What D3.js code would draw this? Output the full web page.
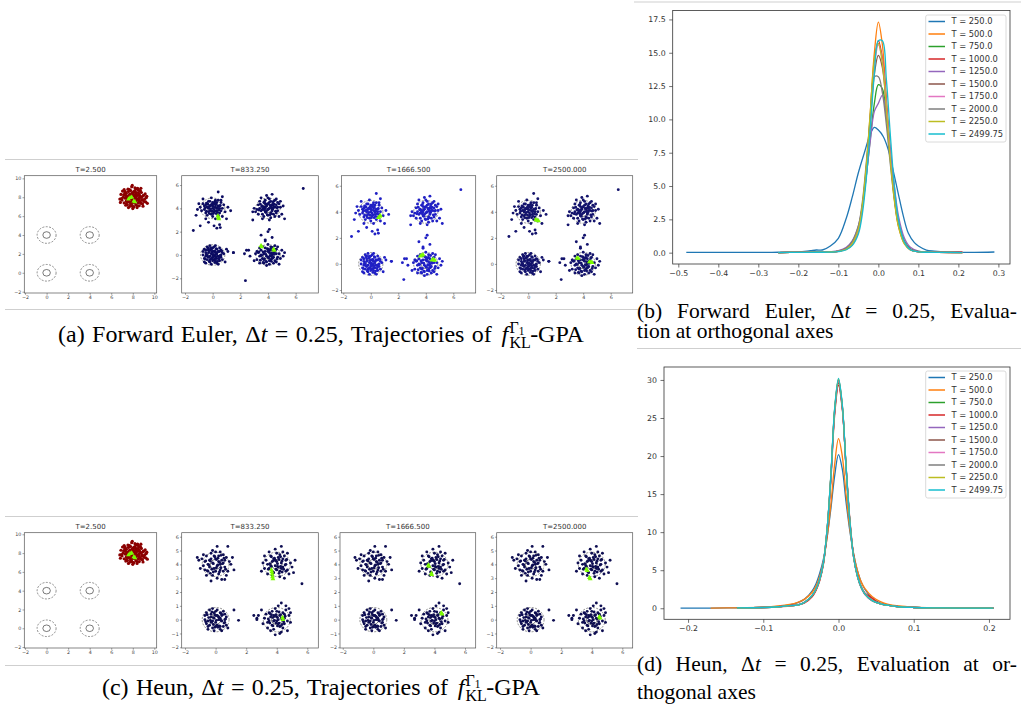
<!DOCTYPE html>
<html>
<head>
<meta charset="utf-8">
<title>GPA trajectories and orthogonal-axis evaluation</title>
<script src="https://cdnjs.cloudflare.com/ajax/libs/d3/7.8.5/d3.min.js"></script>
<style>
  body { margin: 0; background: #fff; }
  svg { display: block; }
</style>
</head>
<body>
<script>
// ---------- data ----------
// cluster centres of the target mixture
var centers = [[0, 4], [4, 4], [0, 0], [4, 0]];

// particle offsets from each centre, in tenths (dx, dy, dx, dy ...)
var eulerTL = [-5,3, -2,6, 1,4, 4,2, -6,-1, 0,0, 3,-2, -3,-3, 6,5, -1,-5, 2,7, -7,4, 5,-4, -4,1, 1,-1, 7,0, -2,2, 3,5, -5,-4, 0,-7, 4,-6, -8,-2, 2,1, -1,3, 6,-2, -3,6, 8,3, -6,2, 1,-3, 5,2, -4,-6, 0,5, 3,0, -2,-2, 9,-3, -9,1, 4,7, -1,9, 2,-9, 11,1, -11,-1, 7,-7, 4,14, 7,10, 1,-15, 5,-14, -3,-12, 10,-9, -12,-6, -5,-9, 3,-17, 13,-2, -10,4, -7,8, 2,3, -3,0, 5,0, 0,2, -4,4, 6,7];
var eulerTR = [-4,2, 1,5, 3,-1, -2,-3, 6,3, 0,-1, -6,0, 4,6, -1,2, 2,-4, 7,-2, -3,5, 5,1, -5,-2, 1,0, -2,7, 8,4, 3,3, -7,3, 0,-6, 4,-5, -4,-5, 2,2, -1,-2, 6,-4, 9,1, -8,-1, -3,1, 1,8, 5,7, -6,6, 2,-8, -1,11, 3,12, -9,-3, 10,-5, 8,-7, -4,-9, 0,4, 4,1, -2,0, 3,-2, 6,8, -5,9, 12,-9, 9,6, -11,-3, -10,0, 1,-10, -3,-7, 7,5, 5,-7, 0,9, 2,6, -7,-5, 11,2, -2,4, 4,3, 7,1, -4,-1];
var eulerBL = [-3,2, 1,-4, 4,3, -5,-1, 0,6, 2,0, -2,-6, 6,-2, -6,5, 3,-7, -1,1, 5,6, -4,-4, 1,3, -7,0, 7,2, 0,-2, -2,8, 3,5, -5,-7, 2,-5, -3,4, 4,-1, -1,-8, 6,4, -6,-3, 1,7, 5,-5, -4,7, 0,-5, 2,2, -2,-1, 7,-4, -7,3, 3,1, -1,5, 4,-8, -3,-2, 0,3, 6,0, -5,2, 2,8, -2,-4, 8,1, 1,-1, -4,0, 5,3, -6,-6, 3,-3, -1,-3, 11,3, 15,2, 9,-6, 10,5, -1,6, 2,-3, -3,6, 5,-2, -5,4, 0,0];
var eulerBR = [-3,1, 2,-4, 5,3, -6,-1, 0,5, 3,0, -1,-6, 7,-2, -5,4, 4,-7, 1,2, -4,-3, 6,5, -2,6, 8,1, 0,-2, -7,2, 3,4, -3,-7, 5,-5, 2,7, -1,-1, 9,-3, -8,-4, 1,-8, 4,2, -4,7, 6,-6, -2,3, 10,4, -6,6, 3,-3, 11,-1, -9,1, 0,9, -2,13, 0,20, 1,22, -5,17, -2,12, 3,15, -14,4, -17,1, -13,-1, 7,7, 8,-8, -1,-9, 12,2, -10,-5, 2,-1, -5,0, 4,-2, 6,1, -3,-4, 0,3, 5,8, -8,3, 2,5, 1,-5, -6,-7];
var eulerExtras = [[6.55, 5.7], [-1.4, 2.1], [-0.9, 2.5], [0.55, 2.35], [2.9, 3.0], [2.45, 0.4], [1.5, 0.2]];

var heunTL = [-4,3, 2,6, 5,1, -1,-3, -7,2, 3,-4, 0,4, -5,-5, 7,5, 1,-1, -3,8, 6,-2, -8,-1, 4,3, -2,1, 9,2, -6,6, 2,-7, -4,-2, 8,-5, 0,9, 5,7, -9,4, 3,0, -1,6, 1,-10, -6,-8, 10,0, -11,3, 7,-8, 4,-11, -3,-12, 8,13, -2,10, -12,5, 12,-4, -10,-3, 6,3, -5,0, 0,-5, 2,2, -3,4, 5,-5, -7,-4, 11,5, -2,-8, 3,9, -8,7, 1,13, 6,-11];
var heunTR = [-3,2, 1,5, 4,-2, -6,0, 2,-5, -1,-1, 6,3, -4,6, 3,1, -8,-3, 7,-4, 0,8, -2,-6, 5,6, -7,3, 1,-2, 9,1, -3,-8, 4,4, -5,-3, 10,-2, 0,2, 2,-9, -9,1, 7,8, -1,11, 3,13, -5,9, 12,3, 8,-7, -6,-7, 5,-10, -10,-5, 11,-6, 6,0, -2,4, 3,-3, -4,-1, 0,-4, 2,7, -8,6, 4,9, -1,3, 6,-5];
var heunBL = [-3,2, 1,-4, 4,3, -5,-1, 0,6, 2,0, -2,-6, 6,-2, -6,5, 3,-7, -1,1, 5,6, -4,-4, 1,3, -7,0, 7,2, 0,-2, -2,8, 3,5, -5,-7, 2,-5, -3,4, 4,-1, -1,-8, 6,4, -6,-3, 1,7, 5,-5, -4,7, 0,-5, 2,2, -2,-1, 7,-4, -7,3, 3,1, -1,5, 4,-8, -3,-2, 0,3, 6,0, 8,-6, -5,-5, 3,-5];
var heunBR = [-4,2, 1,-3, 5,4, -6,-2, 0,6, 3,1, -2,-7, 7,-1, -5,5, 4,-6, 2,3, -3,-4, 6,7, -1,8, 8,3, 0,-1, -8,1, 3,-9, -4,-8, 5,-3, 1,10, -2,-1, 9,-2, -7,4, 2,-10, 4,5, -10,7, -12,3, -13,0, 7,-8, -1,-11, 6,10, 3,12, -3,6, 9,5, 0,2, -5,-1, 2,-5, -2,3, 5,1, -6,-6, 1,0, -9,-3, 8,8];
var heunExtras = [[5.65, 2.6], [1.2, 0.7], [1.5, -0.05], [2.5, 0.3], [2.7, 0.1]];

// extra particles in the dense cores (same tenths convention)
var coreA = [-2.5,1.5, 1.5,-2.5, -0.5,3.5, 3.5,0.5, -4.5,-2.5, 2.5,3.5, -1.5,-0.5, 0.5,1.5, 4.5,-1.5, -3.5,3.5, 1.5,5.5, -5.5,0.5, 2.5,-4.5, -2.5,-4.5, 5.5,2.5, -0.5,-2.5, 0.5,-4.5, -4.5,4.5, 3.5,-3.5, -1.5,2.5];
var coreB = [1.5,2.5, -2.5,-1.5, 3.5,-0.5, -0.5,3.5, 2.5,-4.5, -4.5,1.5, 0.5,-0.5, -1.5,-3.5, 4.5,3.5, -3.5,-0.5, 5.5,-2.5, -5.5,3.5, 1.5,-5.5, -2.5,5.5, 3.5,4.5, -0.5,-5.5, 6.5,0.5, -6.5,-1.5, 2.5,0.5, -1.5,1.5];
var coreC = [0.5,0.5, -2.5,2.5, 2.5,-1.5, -3.5,-1.5, 1.5,3.5, -0.5,-3.5, 3.5,2.5, -4.5,0.5, 4.5,-3.5, 0.5,-1.5, -1.5,4.5, 2.5,5.5, -5.5,-3.5, 5.5,-0.5, -2.5,-5.5, 1.5,-6.5, -3.5,5.5, 6.5,3.5, -0.5,2.5, 3.5,-5.5];
var coreD = [-1.5,0.5, 2.5,1.5, -3.5,2.5, 0.5,-2.5, 3.5,-2.5, -2.5,-3.5, 1.5,4.5, -4.5,-0.5, 4.5,0.5, -0.5,5.5, 5.5,4.5, -5.5,-4.5, 2.5,-5.5, -1.5,-5.5, 6.5,-3.5, -6.5,2.5, 0.5,3.5, 3.5,6.5, -3.5,-6.5, 1.5,-0.5];

// initial particles (T=2.5)
var redCenter = [8, 7.9];
var redOffsets = [-3,2, 1,-4, 4,3, -5,-1, 0,6, 2,0, -2,-6, 6,-2, -6,5, 3,-7, -1,1, 5,6, -4,-4, 1,3, -7,0, 7,2, 0,-2, -2,8, 3,5, -5,-7, 2,-5, -3,4, 4,-1, -1,-8, 6,4, -6,-3, 1,7, 5,-5, -4,7, 0,-5, 2,2, -2,-1, 7,-4, -7,3, 3,1, -1,5, 4,-8, -3,-2, 0,3, 6,0, -5,2, 2,8, -2,-4, 8,1, 1,-1, -4,0, 5,3, -6,-6, 3,-3, -1,-3, 9,-2, -9,1, 10,3, -8,-5, 11,-1, -10,-2, 8,6, -7,7, 2,11, -1,12, 9,-6, -4,-10, 0,-11, 5,9, 13,2, -11,4, 1,-9, 6,-8, -8,9, 3,10, 12,-4, -12,-1, 7,8, 4,-10, -3,9];
var redExtra = [-8.5,3.5, 9.5,2.5, -6.5,-7.5, 7.5,-5.5, 10.5,-3.5, -10.5,-0.5, 4.5,10.5, -4.5,9.5, 0.5,-9.5, 12.5,0.5, -2.5,-8.5, 6.5,7.5, -7.5,5.5, 8.5,-1.5, -5.5,-3.5, 2.5,6.5, -1.5,-6.5, 5.5,-2.5, -3.5,1.5, 1.5,-3.5, 3.5,3.5, -6.5,0.5, 0.5,4.5, 11.5,4.5, -11.5,-4.5, 7.5,10.5, -9.5,7.5, 13.5,-5.5, -0.5,13.5, 9.5,-8.5];

// green markers (tracked particles) per panel
var greenStart = [[7.6, 7.8], [7.75, 7.95], [7.9, 8.0], [8.1, 7.6], [8.2, 7.5]];
var greenEuler = [
  [[0.38, 3.35], [0.42, 3.2], [0.45, 3.1], [3.5, 0.8], [3.55, 0.7], [4.4, 0.5], [4.45, 0.4]],
  [[0.55, 3.55], [0.65, 3.65], [0.7, 3.7], [3.6, 0.6], [3.7, 0.65], [3.8, 0.7], [4.45, 0.3], [4.55, 0.35], [4.65, 0.28]],
  [[0.55, 3.4], [0.65, 3.35], [0.75, 3.3], [3.55, 0.45], [3.65, 0.42], [4.45, 0.15], [4.55, 0.15], [4.65, 0.1]]
];
var greenHeun = [
  [[3.65, 3.6], [3.68, 3.45], [3.7, 3.3], [3.72, 3.1], [3.75, 2.95], [4.38, 0.15], [4.4, 0.0]],
  [[3.6, 3.95], [3.65, 3.85], [3.8, 3.35], [3.82, 3.25], [4.45, 0.5], [4.5, 0.4]],
  [[3.65, 3.65], [3.7, 3.55], [3.85, 3.05], [3.9, 2.95], [4.5, 0.2], [4.55, 0.12]]
];
var panelTitles = ["T=2.500", "T=833.250", "T=1666.500", "T=2500.000"];

// density curves, evaluation at orthogonal axes
var legendLabels = ["T = 250.0", "T = 500.0", "T = 750.0", "T = 1000.0", "T = 1250.0",
                    "T = 1500.0", "T = 1750.0", "T = 2000.0", "T = 2250.0", "T = 2499.75"];
var colors = ["#1f77b4", "#ff7f0e", "#2ca02c", "#d62728", "#9467bd",
              "#8c564b", "#e377c2", "#7f7f7f", "#bcbd22", "#17becf"];

var eulerBlueX = [-0.48,-0.4,-0.3,-0.25,-0.2,-0.17,-0.155,-0.14,-0.12,-0.1,-0.08,-0.065,-0.05,-0.035,-0.02,-0.01,0,0.0125,0.025,0.0375,0.05,0.062,0.075,0.09,0.1,0.12,0.14,0.17,0.2,0.24,0.29];
var eulerBlueY = [0.02,0.02,0.02,0.03,0.05,0.15,0.2,0.2,0.5,1.08,2.6,4.2,6.0,7.5,8.9,9.4,9.2,8.7,7.7,6.1,4.4,2.8,1.45,0.75,0.5,0.2,0.12,0.05,0.03,0.02,0.05];
var eulerX = [-0.25,-0.2,-0.15,-0.12,-0.1,-0.08,-0.065,-0.05,-0.04,-0.03,-0.02,-0.01,0,0.01,0.02,0.03,0.04,0.05,0.065,0.08,0.1,0.12,0.15,0.21];
var euler500  = [0.01,0.02,0.03,0.05,0.1,0.25,0.6,1.6,3.3,6.4,10.6,15.0,17.3,15.6,11.6,7.4,4.1,2.0,0.7,0.25,0.08,0.04,0.02,0.01];
var euler750  = [0.01,0.02,0.04,0.06,0.12,0.35,0.8,1.9,3.4,5.8,8.6,11.2,12.6,12.3,10.2,7.2,4.4,2.4,0.9,0.3,0.1,0.05,0.03,0.02];
var euler1000 = [0.01,0.02,0.03,0.05,0.1,0.3,0.7,1.7,3.4,6.3,10.2,14.2,15.9,14.6,11.2,7.3,4.2,2.2,0.75,0.2,0.06,0.03,0.02,0.05];
var euler1250 = [0.01,0.02,0.04,0.07,0.15,0.4,0.9,2.0,3.5,5.8,8.4,10.6,11.2,11.8,10.4,7.8,5.0,2.8,1.1,0.4,0.12,0.05,0.03,0.02];
var euler1500 = [0.01,0.02,0.03,0.05,0.1,0.3,0.75,1.8,3.5,6.3,9.9,13.4,14.8,13.9,10.9,7.2,4.2,2.2,0.8,0.25,0.08,0.04,0.02,0.01];
var euler1750 = [0.01,0.02,0.03,0.05,0.1,0.28,0.7,1.7,3.4,6.2,10.0,14.0,15.6,14.4,11.1,7.2,4.2,2.2,0.75,0.22,0.07,0.03,0.02,0.01];
var euler2000 = [0.01,0.02,0.03,0.06,0.12,0.33,0.85,2.0,3.8,6.8,10.2,13.2,13.2,12.0,9.6,6.6,4.0,2.1,0.8,0.25,0.08,0.04,0.02,0.01];
var euler2250 = [0.01,0.02,0.03,0.05,0.1,0.28,0.7,1.8,3.6,6.6,10.6,14.5,15.7,14.2,10.8,6.9,3.9,2.0,0.65,0.2,0.06,0.03,0.02,0.01];
var euler2500 = [0.01,0.02,0.03,0.04,0.08,0.22,0.55,1.4,2.9,5.6,9.4,13.4,15.9,15.9,13.0,8.8,5.0,2.5,0.8,0.22,0.06,0.03,0.02,0.01];

var heunWideX = [-0.21,-0.17,-0.135,-0.1,-0.08,-0.065,-0.055,-0.045,-0.035,-0.03,-0.025,-0.02,-0.015,-0.01,-0.005,0,0.005,0.01,0.015,0.02,0.025,0.03,0.035,0.045,0.055,0.065,0.08,0.1,0.13,0.16,0.206];
var heun250 = [0.03,0.03,0.05,0.12,0.25,0.45,0.7,1.2,2.3,3.2,4.6,6.5,9.4,13.2,17.5,20.2,18.3,14.0,10.2,7.2,5.0,3.5,2.5,1.3,0.7,0.45,0.25,0.12,0.06,0.04,0.03];
var heun500 = [null,0.03,0.06,0.15,0.3,0.5,0.75,1.2,2.1,2.9,4.2,6.2,9.4,13.8,19.0,22.3,20.0,15.0,10.5,7.2,5.0,3.5,2.6,1.5,0.9,0.55,0.3,0.15,0.07,0.04,0.03];
var heunX = [-0.135,-0.1,-0.08,-0.065,-0.055,-0.045,-0.035,-0.03,-0.025,-0.02,-0.015,-0.01,-0.005,0,0.005,0.01,0.015,0.02,0.025,0.03,0.035,0.045,0.055,0.065,0.08,0.1,0.13,0.16,0.206];
var heun750  = [0.05,0.1,0.2,0.35,0.4,0.8,1.7,2.5,3.8,6.0,10.5,17.5,26.0,29.8,26.5,18.5,11.5,6.8,4.3,2.8,1.9,1.0,0.6,0.4,0.2,0.1,0.05,0.03,0.02];
var heun1000 = [0.05,0.1,0.2,0.3,0.4,0.7,1.5,2.3,3.6,5.8,10.2,17.0,25.5,29.3,26.2,18.8,11.8,7.0,4.4,2.9,2.0,1.3,0.6,0.4,0.2,0.1,0.05,0.03,0.02];
var heun1250 = [0.05,0.1,0.2,0.35,0.45,0.8,1.7,2.5,3.9,6.1,10.6,17.6,26.2,30.0,26.6,18.6,11.4,6.7,4.2,2.7,1.8,0.95,0.6,0.4,0.2,0.1,0.05,0.03,0.02];
var heun1500 = [0.05,0.1,0.2,0.35,0.4,0.75,1.6,2.4,3.7,5.9,10.4,17.4,25.9,29.6,26.4,18.6,11.6,6.9,4.3,2.8,1.9,1.0,0.6,0.4,0.2,0.1,0.05,0.03,0.02];
var heun1750 = [0.05,0.1,0.2,0.35,0.4,0.8,1.7,2.5,3.8,6.0,10.5,17.5,26.0,29.9,26.5,18.5,11.5,6.8,4.3,2.8,1.9,1.0,0.6,0.4,0.2,0.1,0.05,0.03,0.02];
var heun2000 = [0.05,0.1,0.2,0.35,0.4,0.8,1.7,2.5,3.8,6.0,10.5,17.6,26.1,30.0,26.6,18.6,11.5,6.8,4.3,2.8,1.9,1.0,0.6,0.4,0.2,0.1,0.05,0.03,0.02];
var heun2250 = [0.05,0.1,0.2,0.35,0.4,0.8,1.7,2.5,3.8,6.0,10.6,17.7,26.3,30.1,26.7,18.7,11.5,6.8,4.3,2.8,1.9,1.0,0.6,0.4,0.2,0.1,0.05,0.03,0.02];
var heun2500 = [0.05,0.1,0.2,0.35,0.4,0.8,1.7,2.5,3.8,6.0,10.6,17.8,26.4,30.2,26.8,18.8,11.6,6.8,4.3,2.8,1.9,1.0,0.6,0.4,0.2,0.1,0.05,0.03,0.02];

// ---------- drawing ----------
var svg = d3.select("body").append("svg").attr("width", 1021).attr("height", 715);
var tickFont = "DejaVu Sans, sans-serif";
var clipCount = 0;

function toPoints(c, offs) {
  var p = [];
  for (var i = 0; i < offs.length; i += 2) p.push([c[0] + offs[i] / 10, c[1] + offs[i + 1] / 10]);
  return p;
}

function rule(x1, x2, y) {
  svg.append("line").attr("x1", x1).attr("x2", x2).attr("y1", y).attr("y2", y)
    .attr("stroke", "#cfcfcf").attr("stroke-width", 1);
}

function scatterPanel(box, xd, yd, xt, yt, title, pts, col, greens, rad) {
  var x = d3.scaleLinear().domain(xd).range([box[0], box[2]]);
  var y = d3.scaleLinear().domain(yd).range([box[3], box[1]]);
  var g = svg.append("g");
  var id = "clip" + (clipCount++);
  g.append("clipPath").attr("id", id).append("rect")
    .attr("x", box[0]).attr("y", box[1]).attr("width", box[2] - box[0]).attr("height", box[3] - box[1]);
  var inner = g.append("g").attr("clip-path", "url(#" + id + ")");

  centers.forEach(function(c) {
    [[0.35, null, "#222"], [0.88, "2,1.4", "#444"]].forEach(function(r) {
      inner.append("ellipse")
        .attr("cx", x(c[0])).attr("cy", y(c[1]))
        .attr("rx", x(c[0] + r[0]) - x(c[0])).attr("ry", y(c[1]) - y(c[1] + r[0]))
        .attr("fill", "none").attr("stroke", r[2]).attr("stroke-width", 0.6)
        .attr("stroke-dasharray", r[1]);
    });
  });

  inner.selectAll(null).data(pts).enter().append("circle")
    .attr("cx", function(d) { return x(d[0]); })
    .attr("cy", function(d) { return y(d[1]); })
    .attr("r", rad)
    .attr("fill", col);

  inner.selectAll(null).data(greens).enter().append("path")
    .attr("d", d3.symbol(d3.symbolTriangle, 10))
    .attr("transform", function(d) { return "translate(" + x(d[0]) + "," + y(d[1]) + ")"; })
    .attr("fill", "#7cfc00");

  g.append("rect").attr("x", box[0]).attr("y", box[1])
    .attr("width", box[2] - box[0]).attr("height", box[3] - box[1])
    .attr("fill", "none").attr("stroke", "#555").attr("stroke-width", 0.7);

  var ax = g.append("g").attr("transform", "translate(0," + box[3] + ")")
    .call(d3.axisBottom(x).tickValues(xt).tickSize(1.8).tickPadding(1.2).tickFormat(d3.format("d")));
  var ay = g.append("g").attr("transform", "translate(" + box[0] + ",0)")
    .call(d3.axisLeft(y).tickValues(yt).tickSize(1.8).tickPadding(1.2).tickFormat(d3.format("d")));
  [ax, ay].forEach(function(a) {
    a.select(".domain").remove();
    a.attr("font-size", 4.8).attr("font-family", tickFont).attr("color", "#444");
    a.selectAll("line").attr("stroke-width", 0.5);
  });

  g.append("text").attr("x", (box[0] + box[2]) / 2).attr("y", box[1] - 4)
    .attr("text-anchor", "middle").attr("font-family", tickFont)
    .attr("font-size", 7).attr("fill", "#333").text(title);
}

function lineChart(box, xd, yd, xt, yt, fx, fy, series, legendTop) {
  var x = d3.scaleLinear().domain(xd).range([box[0], box[2]]);
  var y = d3.scaleLinear().domain(yd).range([box[3], box[1]]);
  var g = svg.append("g");
  var line = d3.line()
    .defined(function(d) { return d[1] != null; })
    .x(function(d) { return x(d[0]); })
    .y(function(d) { return y(d[1]); })
    .curve(d3.curveCatmullRom.alpha(0.5));

  series.forEach(function(s, i) {
    var pts = s[0].map(function(v, k) { return [v, s[1][k]]; });
    g.append("path").datum(pts).attr("d", line)
      .attr("fill", "none").attr("stroke", colors[i]).attr("stroke-width", 1.3);
  });

  g.append("rect").attr("x", box[0]).attr("y", box[1])
    .attr("width", box[2] - box[0]).attr("height", box[3] - box[1])
    .attr("fill", "none").attr("stroke", "#333").attr("stroke-width", 0.8);

  var ax = g.append("g").attr("transform", "translate(0," + box[3] + ")")
    .call(d3.axisBottom(x).tickValues(xt).tickSize(3.5).tickPadding(3).tickFormat(fx));
  var ay = g.append("g").attr("transform", "translate(" + box[0] + ",0)")
    .call(d3.axisLeft(y).tickValues(yt).tickSize(3.5).tickPadding(3.5).tickFormat(fy));
  [ax, ay].forEach(function(a) {
    a.select(".domain").remove();
    a.attr("font-size", 7.8).attr("font-family", tickFont).attr("color", "#333");
    a.selectAll("line").attr("stroke-width", 0.7);
  });

  // legend
  var lg = g.append("g");
  lg.append("rect").attr("x", 925.7).attr("y", legendTop).attr("width", 80.3).attr("height", 127)
    .attr("rx", 2).attr("fill", "#fff").attr("fill-opacity", 0.85)
    .attr("stroke", "#d0d0d0").attr("stroke-width", 0.8);
  legendLabels.forEach(function(lab, i) {
    var yy = legendTop + 6.5 + i * 12.5;
    lg.append("line").attr("x1", 928.5).attr("x2", 945).attr("y1", yy).attr("y2", yy)
      .attr("stroke", colors[i]).attr("stroke-width", 1.5);
    lg.append("text").attr("x", 951.5).attr("y", yy).attr("dy", "0.35em")
      .attr("font-family", tickFont).attr("font-size", 8.3).attr("fill", "#333").text(lab);
  });
}

// separator rules of the figure
rule(5, 638, 159.5); rule(5, 638, 309.5);
rule(5, 638, 516.5); rule(5, 638, 665.5);
rule(634, 1021, 2); rule(637, 1021, 348.5);

var eulerPts = toPoints(centers[0], eulerTL.concat(coreA)).concat(
  toPoints(centers[1], eulerTR.concat(coreB)),
  toPoints(centers[2], eulerBL.concat(coreC)),
  toPoints(centers[3], eulerBR.concat(coreD)), eulerExtras);
var heunPts = toPoints(centers[0], heunTL.concat(coreD)).concat(
  toPoints(centers[1], heunTR.concat(coreC)),
  toPoints(centers[2], heunBL.concat(coreB)),
  toPoints(centers[3], heunBR.concat(coreA)), heunExtras);
var redPts = toPoints(redCenter, redOffsets.concat(redExtra));

var t1 = [-2, 0, 2, 4, 6, 8, 10], t2 = [-2, 0, 2, 4, 6], tH = [-2, -1, 0, 1, 2, 3, 4, 5, 6];

// Forward Euler row
scatterPanel([24.3, 175.7, 156.7, 293], [-2.07, 10.22], [-2.14, 10.28], t1, t1, panelTitles[0], redPts, "#8b0000", greenStart, 1.6);
scatterPanel([181.7, 175.7, 318.3, 293], [-2.24, 7.64], [-3.26, 6.8], t2, t2, panelTitles[1],
  eulerPts.concat([[2.37, -2.2]]), "#0c0c62", greenEuler[0], 1.45);
scatterPanel([341.5, 175.7, 475.7, 293], [-2.13, 7.63], [-2.23, 6.77], t2, t2, panelTitles[2],
  eulerPts.concat([[2.4, -1.2]]), "#2020c4", greenEuler[1], 1.45);
scatterPanel([496.7, 175.7, 632.7, 293], [-2.29, 7.6], [-2.23, 6.77], t2, t2, panelTitles[3],
  eulerPts.concat([[2.4, -1.2]]), "#13136c", greenEuler[2], 1.45);

// Heun row
scatterPanel([24.3, 532.7, 156.7, 648], [-2.07, 10.22], [-2.1, 10.17], t1, t1, panelTitles[0], redPts, "#8b0000", greenStart, 1.6);
scatterPanel([181.7, 532.7, 318.3, 648], [-2.22, 6.72], [-2.05, 6.29], t2, tH, panelTitles[1], heunPts, "#0e0e52", greenHeun[0], 1.45);
scatterPanel([340, 532.7, 475.7, 648], [-2.18, 6.7], [-2.05, 6.29], t2, tH, panelTitles[2], heunPts, "#0e0e52", greenHeun[1], 1.45);
scatterPanel([496.7, 532.7, 632.7, 648], [-2.22, 6.68], [-2.05, 6.29], t2, tH, panelTitles[3], heunPts, "#0e0e52", greenHeun[2], 1.45);

// density charts
var f1 = d3.format(".1f"), fd = d3.format("d");
lineChart([672.7, 10.5, 1010, 264], [-0.514, 0.329], [-0.85, 18.17],
  [-0.5, -0.4, -0.3, -0.2, -0.1, 0, 0.1, 0.2, 0.3], [0, 2.5, 5, 7.5, 10, 12.5, 15, 17.5], f1, f1,
  [[eulerBlueX, eulerBlueY], [eulerX, euler500], [eulerX, euler750], [eulerX, euler1000], [eulerX, euler1250],
   [eulerX, euler1500], [eulerX, euler1750], [eulerX, euler2000], [eulerX, euler2250], [eulerX, euler2500]], 15);
lineChart([664, 367, 1010, 619.3], [-0.232, 0.228], [-1.45, 31.7],
  [-0.2, -0.1, 0, 0.1, 0.2], [0, 5, 10, 15, 20, 25, 30], f1, fd,
  [[heunWideX, heun250], [heunWideX, heun500], [heunX, heun750], [heunX, heun1000], [heunX, heun1250],
   [heunX, heun1500], [heunX, heun1750], [heunX, heun2000], [heunX, heun2250], [heunX, heun2500]], 371);

// ---------- captions ----------
var serif = "Liberation Serif, serif";
function caption(x, y, anchor, size, label, tail) {
  var t = svg.append("text").attr("x", x).attr("y", y).attr("text-anchor", anchor)
    .attr("font-family", serif).attr("font-size", size).attr("fill", "#000");
  t.append("tspan").text(label + ", \u0394");
  t.append("tspan").attr("font-style", "italic").text("t");
  t.append("tspan").text(" = 0.25, " + tail);
  return t;
}
function gpaTail(t, size) {
  var k = size / 21;
  t.append("tspan").attr("font-style", "italic").attr("dx", 2 * k).text("f");
  t.append("tspan").attr("font-size", 14 * k).attr("dx", 1 * k).attr("dy", 5 * k).text("KL");
  t.append("tspan").attr("font-size", 14 * k).attr("dx", -18.6 * k).attr("dy", -13 * k).text("\u0393");
  t.append("tspan").attr("font-size", 10 * k).attr("dy", 2 * k).text("1");
  t.append("tspan").attr("dx", 5 * k).attr("dy", 6 * k).text("-GPA");
  return t;
}
// stretch the word gaps so that a line fills the given width
function justify(t, width) {
  var w = t.node().getComputedTextLength();
  var n = (t.text().match(/ /g) || []).length;
  t.attr("word-spacing", Math.max(-1, (width - w) / n));
  return t;
}
function plain(x, y, size, s) {
  return svg.append("text").attr("x", x).attr("y", y).attr("font-family", serif)
    .attr("font-size", size).attr("fill", "#000").text(s);
}

var leftSize = 24, rightSize = 21.5;
var capA = justify(gpaTail(caption(321, 342, "middle", leftSize, "(a) Forward Euler", "Trajectories of "), leftSize), 538);
gpaTail(caption(321, 695, "middle", leftSize, "(c) Heun", "Trajectories of "), leftSize)
  .attr("word-spacing", capA.attr("word-spacing"));
justify(caption(637, 318, "start", rightSize, "(b) Forward Euler", "Evalua-"), 380);
plain(637, 338, rightSize, "tion at orthogonal axes");
justify(caption(637, 671, "start", rightSize, "(d) Heun", "Evaluation at or-"), 380);
plain(637, 699, rightSize, "thogonal axes");
</script>
</body>
</html>
